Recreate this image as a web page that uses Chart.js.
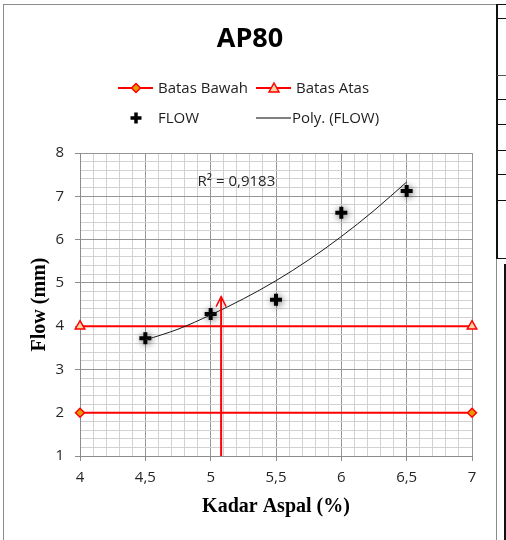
<!DOCTYPE html>
<html>
<head>
<meta charset="utf-8">
<title>AP80 - Flow</title>
<script src="https://cdn.jsdelivr.net/npm/chart.js@4.4.0/dist/chart.umd.min.js"></script>
<style>
  html, body { margin: 0; padding: 0; background: #fff; }
  #wrap { position: relative; width: 506px; height: 540px; overflow: hidden; }
  #wrap canvas { position: absolute; left: 0; top: 0; }
  .ln { position: absolute; }
</style>
</head>
<body>
<div id="wrap">
  <canvas id="flowChart" width="506" height="540"></canvas>
  <!-- bingkai chart dan sel-sel di kanan -->
  <div class="ln" style="left:3px;top:4px;width:1px;height:536px;background:#8c8c8c"></div>
  <div class="ln" style="left:3px;top:4px;width:493px;height:1px;background:#8c8c8c"></div>
  <div class="ln" style="left:496px;top:4px;width:1px;height:536px;background:#8c8c8c"></div>
  <div class="ln" style="left:496px;top:4px;width:2px;height:255px;background:#111"></div>
  <div class="ln" style="left:497px;top:4px;width:9px;height:1px;background:#111"></div>
  <div class="ln" style="left:497px;top:18px;width:9px;height:1px;background:#111"></div>
  <div class="ln" style="left:497px;top:75px;width:9px;height:1px;background:#555"></div>
  <div class="ln" style="left:497px;top:99px;width:9px;height:1px;background:#111"></div>
  <div class="ln" style="left:497px;top:124px;width:9px;height:1px;background:#111"></div>
  <div class="ln" style="left:497px;top:150px;width:9px;height:1px;background:#111"></div>
  <div class="ln" style="left:497px;top:174px;width:9px;height:1px;background:#111"></div>
  <div class="ln" style="left:497px;top:200px;width:9px;height:1px;background:#111"></div>
  <div class="ln" style="left:497px;top:258px;width:9px;height:1px;background:#111"></div>
  <div class="ln" style="left:504px;top:264px;width:2px;height:276px;background:#111"></div>
</div>
<script>
// data dibaca dari grafik AP80
const kadarAspal = [4.5, 5, 5.5, 6, 6.5];
const flowValues = [3.72, 4.28, 4.61, 6.62, 7.12];

const batasX = [4, 7];
const batasBawah = [2, 2];
const batasAtas = [4, 4];

// garis trend polinomial (dibaca dari kurva)
const trendX = [4.5, 4.75, 5, 5.25, 5.5, 5.75, 6, 6.25, 6.5];
const trendY = [3.68, 3.93, 4.26, 4.63, 5.05, 5.53, 6.07, 6.67, 7.33];
const r2Text = 'R\u00B2 = 0,9183';

// garis kadar aspal optimum
const kadarOptimum = [5.08, 5.08];
const arrowY = [1, 4.68];

const xTickLabels = ['4', '4,5', '5', '5,5', '6', '6,5', '7'];
const yTickLabels = ['1', '2', '3', '4', '5', '6', '7', '8'];
const judul = 'AP80';

const FONT = "'Open Sans', 'Liberation Sans', sans-serif";
const SERIF = "'Liberation Serif', 'Times New Roman', serif";

const toPoints = (xs, ys) => xs.map((x, i) => ({ x: x, y: ys[i] }));
const nearInt = v => Math.abs(v - Math.round(v)) < 1e-6;

function drawMarker(ctx, style, x, y) {
  ctx.save();
  if (style === 'diamond') {
    ctx.beginPath();
    ctx.moveTo(x, y - 4.5); ctx.lineTo(x + 4.5, y); ctx.lineTo(x, y + 4.5); ctx.lineTo(x - 4.5, y);
    ctx.closePath();
    ctx.fillStyle = '#e39a00'; ctx.fill();
    ctx.strokeStyle = '#ff0000'; ctx.lineWidth = 1.5; ctx.stroke();
  } else if (style === 'triangle') {
    ctx.beginPath();
    ctx.moveTo(x, y - 5); ctx.lineTo(x + 5, y + 4); ctx.lineTo(x - 5, y + 4);
    ctx.closePath();
    ctx.fillStyle = '#fbd3a6'; ctx.fill();
    ctx.strokeStyle = '#ff0000'; ctx.lineWidth = 1.5; ctx.stroke();
  } else if (style === 'cross') {
    ctx.strokeStyle = '#000'; ctx.lineWidth = 3.5;
    ctx.beginPath();
    ctx.moveTo(x - 5.5, y); ctx.lineTo(x + 5.5, y);
    ctx.moveTo(x, y - 5.5); ctx.lineTo(x, y + 5.5);
    ctx.stroke();
  }
  ctx.restore();
}

const legendItems = [
  { text: 'Batas Bawah', lx: 118, y: 88, line: '#ff0000', marker: 'diamond', tx: 158 },
  { text: 'Batas Atas', lx: 256, y: 88, line: '#ff0000', marker: 'triangle', tx: 296 },
  { text: 'FLOW', lx: 118, y: 118, line: null, marker: 'cross', tx: 158 },
  { text: 'Poly. (FLOW)', lx: 256, y: 118, line: '#000', marker: null, tx: 292 }
];

const extrasPlugin = {
  id: 'extras',
  beforeDatasetDraw(chart, args) {
    if (args.index === 2) {
      const ctx = chart.ctx;
      ctx.save();
      ctx.shadowColor = 'rgba(0,0,0,0.6)';
      ctx.shadowBlur = 7;
      ctx.shadowOffsetX = 1;
      ctx.shadowOffsetY = 1;
    }
  },
  afterDatasetDraw(chart, args) {
    if (args.index === 2) chart.ctx.restore();
  },
  afterDatasetsDraw(chart) {
    const ctx = chart.ctx;
    const xs = chart.scales.x, ys = chart.scales.y;
    // kepala panah
    const ax = xs.getPixelForValue(kadarOptimum[1]);
    const ay = ys.getPixelForValue(arrowY[1]);
    ctx.save();
    ctx.strokeStyle = '#ff0000';
    ctx.lineWidth = 1.5;
    ctx.beginPath();
    ctx.moveTo(ax - 5, ay + 10);
    ctx.lineTo(ax, ay);
    ctx.lineTo(ax + 5, ay + 10);
    ctx.stroke();
    // R²
    ctx.fillStyle = '#262626';
    ctx.font = '15px ' + FONT;
    ctx.textBaseline = 'middle';
    ctx.textAlign = 'left';
    ctx.fillText(r2Text, xs.getPixelForValue(4.9), ys.getPixelForValue(7.33));
    ctx.restore();
  },
  afterDraw(chart) {
    const ctx = chart.ctx;
    ctx.save();
    // judul
    ctx.fillStyle = '#000';
    ctx.font = 'bold 27px ' + FONT;
    ctx.textAlign = 'center';
    ctx.textBaseline = 'middle';
    ctx.fillText(judul, 250, 39);
    // legenda
    ctx.textAlign = 'left';
    ctx.font = '15px ' + FONT;
    ctx.fillStyle = '#1e1e1e';
    legendItems.forEach(it => {
      if (it.line) {
        ctx.strokeStyle = it.line;
        ctx.lineWidth = it.line === '#000' ? 1 : 2;
        ctx.beginPath();
        ctx.moveTo(it.lx, it.y);
        ctx.lineTo(it.lx + 35, it.y);
        ctx.stroke();
      }
      if (it.marker) drawMarker(ctx, it.marker, it.lx + 18, it.y);
      ctx.fillText(it.text, it.tx, it.y + 1);
    });
    ctx.restore();
  }
};

const ctx = document.getElementById('flowChart').getContext('2d');
const chart = new Chart(ctx, {
  type: 'scatter',
  data: {
    datasets: [
      {
        label: 'Batas Bawah',
        data: toPoints(batasX, batasBawah),
        showLine: true,
        borderColor: '#ff0000',
        borderWidth: 2,
        pointStyle: 'rectRot',
        pointRadius: 4.5,
        pointBackgroundColor: '#e39a00',
        pointBorderColor: '#ff0000',
        pointBorderWidth: 1.5,
        clip: false,
        order: 4
      },
      {
        label: 'Batas Atas',
        data: toPoints(batasX, batasAtas),
        showLine: true,
        borderColor: '#ff0000',
        borderWidth: 2,
        pointStyle: 'triangle',
        pointRadius: 5.5,
        pointBackgroundColor: '#fbd3a6',
        pointBorderColor: '#ff0000',
        pointBorderWidth: 1.5,
        clip: false,
        order: 3
      },
      {
        label: 'FLOW',
        data: toPoints(kadarAspal, flowValues),
        showLine: false,
        pointStyle: 'cross',
        pointRadius: 6,
        pointBorderWidth: 4,
        pointBorderColor: '#000',
        pointBackgroundColor: '#000',
        clip: false,
        order: 2
      },
      {
        label: 'Poly. (FLOW)',
        data: toPoints(trendX, trendY),
        showLine: true,
        borderColor: '#1a1a1a',
        borderWidth: 1,
        pointRadius: 0,
        cubicInterpolationMode: 'monotone',
        order: 1
      },
      {
        label: 'Kadar optimum',
        data: toPoints(kadarOptimum, arrowY),
        showLine: true,
        borderColor: '#ff0000',
        borderWidth: 2,
        pointRadius: 0,
        order: 0
      }
    ]
  },
  options: {
    responsive: false,
    animation: false,
    events: [],
    layout: { padding: { top: 153, left: 4, right: 34, bottom: 0 } },
    plugins: {
      legend: { display: false },
      tooltip: { enabled: false },
      title: { display: false }
    },
    scales: {
      x: {
        type: 'linear',
        min: 4,
        max: 7,
        afterFit: s => { s.height = 84; },
        border: { display: true, color: '#8c8c8c', width: 1 },
        grid: {
          color: c => (nearInt(c.tick.value * 2) ? '#969696' : '#d2d2d2'),
          tickColor: c => (nearInt(c.tick.value * 2) ? '#8c8c8c' : 'rgba(0,0,0,0)'),
          tickLength: 5,
          lineWidth: 1
        },
        ticks: {
          stepSize: 0.1,
          maxTicksLimit: 1000,
          autoSkip: false,
          maxRotation: 0,
          padding: 8,
          color: '#262626',
          font: { family: FONT, size: 15 },
          callback: v => (nearInt(v * 2) ? xTickLabels[Math.round((v - 4) * 2)] : '')
        },
        title: {
          display: true,
          text: 'Kadar Aspal (%)',
          color: '#000',
          font: { family: SERIF, size: 20, weight: 'bold', lineHeight: 1.2 },
          padding: { top: 0, bottom: 21 }
        }
      },
      y: {
        type: 'linear',
        min: 1,
        max: 8,
        afterFit: s => { s.width = 76; },
        border: { display: true, color: '#8c8c8c', width: 1 },
        grid: {
          color: c => (nearInt(c.tick.value) ? '#969696' : '#d2d2d2'),
          tickColor: c => (nearInt(c.tick.value) ? '#8c8c8c' : 'rgba(0,0,0,0)'),
          tickLength: 5,
          lineWidth: 1
        },
        ticks: {
          stepSize: 0.2,
          maxTicksLimit: 1000,
          autoSkip: false,
          padding: 11,
          color: '#262626',
          font: { family: FONT, size: 15 },
          callback: v => (nearInt(v) ? yTickLabels[Math.round(v) - 1] : '')
        },
        title: {
          display: true,
          text: 'Flow (mm)',
          color: '#000',
          font: { family: SERIF, size: 20, weight: 'bold', lineHeight: 1.2 },
          padding: { top: 24, bottom: 0 }
        }
      }
    }
  },
  plugins: [extrasPlugin]
});
</script>
</body>
</html>
